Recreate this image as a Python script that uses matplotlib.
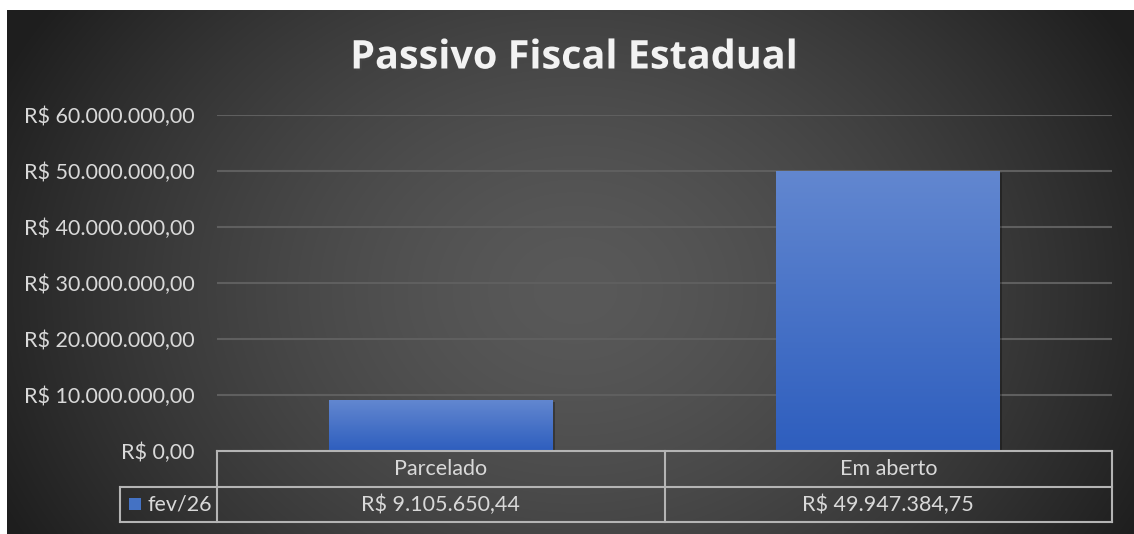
import matplotlib.pyplot as plt
import matplotlib.patheffects as pe
import numpy as np

# Dados
categorias = ["Parcelado", "Em aberto"]
valores = [9105650.44, 49947384.75]
serie = "fev/26"
y_ticks = [0, 10e6, 20e6, 30e6, 40e6, 50e6, 60e6]


def brl(v):
    s = f"{v:,.2f}"
    s = s.replace(",", "X").replace(".", ",").replace("X", ".")
    return "R$ " + s


plt.rcParams['font.family'] = ['Lato', 'DejaVu Sans']

W, H = 1134, 534
fig = plt.figure(figsize=(W / 100, H / 100), dpi=100)
fig.patch.set_facecolor('white')

# fundo com gradiente radial
bg = fig.add_axes([7 / W, 0, 1 - 7 / W, 1 - 10 / H])
bg.set_axis_off()
xx, yy = np.meshgrid(np.arange(7, W), np.arange(10, H))
r = np.sqrt(((xx - 575) / 600.0) ** 2 + ((yy - 290) / 480.0) ** 2)
g = np.clip(89 - 54 * r ** 1.5, 30, 89) / 255.0
bg.imshow(np.dstack([g, g, g]), aspect='auto', extent=[0, 1, 0, 1], origin='upper')
bg.set_xlim(0, 1)
bg.set_ylim(0, 1)

# area do grafico
left, right = 217 / W, 1112 / W
bottom, top = 1 - 451 / H, 1 - 115 / H
ax = fig.add_axes([left, bottom, right - left, top - bottom])
ax.patch.set_alpha(0)

x = np.arange(len(categorias))
bars = ax.bar(x, valores, width=0.5, color='#4472c4', zorder=3,
              path_effects=[pe.SimplePatchShadow(offset=(1.5, -1.5), shadow_rgbFace='black', alpha=0.3),
                            pe.Normal()])

# gradiente nas barras
grad = np.linspace(0, 1, 256)[:, None]
top_c = np.array([0x62, 0x87, 0xd0]) / 255.0
bot_c = np.array([0x2e, 0x5e, 0xbe]) / 255.0
img = top_c[None, None, :] * (1 - grad[..., None]) + bot_c[None, None, :] * grad[..., None]
for b in bars:
    im = ax.imshow(img, extent=[b.get_x(), b.get_x() + b.get_width(), 0, b.get_height()],
                   aspect='auto', origin='upper', zorder=4)
    im.set_clip_path(b)

fs = 15.5
ax.set_xlim(-0.5, len(categorias) - 0.5)
ax.set_ylim(0, 60e6)
ax.set_yticks(y_ticks)
ax.set_yticklabels([brl(v) for v in y_ticks], color='#d9d9d9', fontsize=fs)
ax.tick_params(axis='y', length=0, pad=16)
ax.set_xticks([])
for s in ax.spines.values():
    s.set_visible(False)
ax.grid(axis='y', color='#5f5f5f', linewidth=1.5, zorder=1)
ax.set_axisbelow(True)

# tabela de dados
lc = '#b4b4b4'
lw = 1.5
r1 = -36 / 336
r2 = -71 / 336
xl = (120 - 217) / 895
tr = ax.transAxes
ax.plot([0, 1], [0, 0], color=lc, lw=lw, transform=tr, clip_on=False, zorder=5)
ax.plot([xl, 1], [r1, r1], color=lc, lw=lw, transform=tr, clip_on=False, zorder=5)
ax.plot([xl, 1], [r2, r2], color=lc, lw=lw, transform=tr, clip_on=False, zorder=5)
for xv in [0, 0.5, 1]:
    ax.plot([xv, xv], [0, r2], color=lc, lw=lw, transform=tr, clip_on=False, zorder=5)
ax.plot([xl, xl], [r1, r2], color=lc, lw=lw, transform=tr, clip_on=False, zorder=5)

n = len(categorias)
for i, (c, v) in enumerate(zip(categorias, valores)):
    cx = (i + 0.5) / n
    ax.text(cx, r1 / 2, c, transform=tr, ha='center', va='center',
            color='#d9d9d9', fontsize=fs)
    ax.text(cx, (r1 + r2) / 2, brl(v), transform=tr, ha='center', va='center',
            color='#d9d9d9', fontsize=fs)

# chave da legenda
ax.add_patch(plt.Rectangle((xl + 9 / 895, (r1 + r2) / 2 - 6 / 336), 12 / 895, 12 / 336,
                           transform=tr, clip_on=False, facecolor='#4472c4', edgecolor='none'))
ax.text(xl + 27 / 895, (r1 + r2) / 2, serie, transform=tr, ha='left', va='center',
        color='#d9d9d9', fontsize=fs)

fig.text(0.506, 1 - 58 / H, "Passivo Fiscal Estadual", ha='center', va='center',
         color='#f2f2f2', fontsize=28.5, fontweight='bold', family=['Open Sans', 'DejaVu Sans'],
         path_effects=[pe.withSimplePatchShadow(offset=(1.5, -1.5), alpha=0.5)])

fig.savefig('out.png', dpi=100, facecolor=fig.get_facecolor())
